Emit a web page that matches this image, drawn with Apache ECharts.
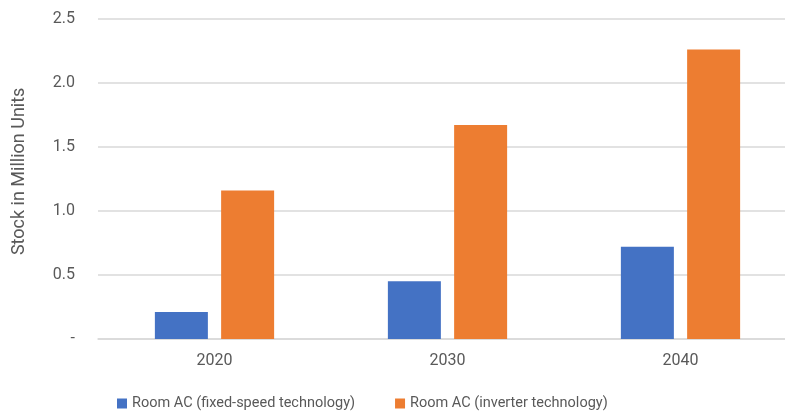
<!DOCTYPE html>
<html>
<head>
<meta charset="utf-8">
<script src="https://cdn.jsdelivr.net/npm/echarts@6/dist/echarts.min.js"></script>
<style>
  html, body { margin: 0; padding: 0; background: #fff; }
  #chart { width: 785px; height: 416px; }
</style>
</head>
<body>
<div id="chart"></div>
<script>
// Room AC stock projections (million units)
const years = ['2020', '2030', '2040'];
const fixedSpeed = [0.21, 0.45, 0.72];
const inverter = [1.16, 1.67, 2.26];
const seriesNames = ['Room AC (fixed-speed technology)', 'Room AC (inverter technology)'];

const chart = echarts.init(document.getElementById('chart'));
const textColor = '#595959';
const font = 'Roboto, "Noto Sans", sans-serif';

chart.setOption({
  animation: false,
  textStyle: { fontFamily: font },
  // plot area runs slightly past the right edge of the canvas
  grid: { left: 98, width: 699, top: 18.7, height: 320.3, outerBoundsMode: 'none', containLabel: false },
  legend: {
    top: 391,
    left: 112,
    itemWidth: 10,
    itemHeight: 10,
    itemGap: 40,
    icon: 'rect',
    textStyle: { color: textColor, fontSize: 14.5, fontFamily: font },
    data: seriesNames
  },
  xAxis: {
    type: 'category',
    data: years,
    axisLine: { lineStyle: { color: '#d9d9d9', width: 1.5 } },
    axisTick: { show: false },
    axisLabel: { color: textColor, fontSize: 16, margin: 14, fontFamily: font }
  },
  yAxis: {
    type: 'value',
    min: 0,
    max: 2.5,
    interval: 0.5,
    name: 'Stock in Million Units',
    nameLocation: 'middle',
    nameGap: 70,
    nameMoveOverlap: false,
    nameTextStyle: { color: textColor, fontSize: 18, fontFamily: font, padding: [0, 0, 0, 15] },
    axisLine: { show: false },
    axisTick: { show: false },
    splitLine: { lineStyle: { color: '#d9d9d9', width: 1.5 } },
    axisLabel: {
      color: textColor,
      fontSize: 16,
      margin: 23,
      fontFamily: font,
      formatter: v => v === 0 ? '-' : v.toFixed(1)
    }
  },
  series: [
    {
      name: seriesNames[0],
      type: 'bar',
      data: fixedSpeed,
      barWidth: 53,
      barGap: '25%',
      itemStyle: { color: '#4472c4' }
    },
    {
      name: seriesNames[1],
      type: 'bar',
      data: inverter,
      barWidth: 53,
      itemStyle: { color: '#ed7d31' }
    }
  ]
});
</script>
</body>
</html>
